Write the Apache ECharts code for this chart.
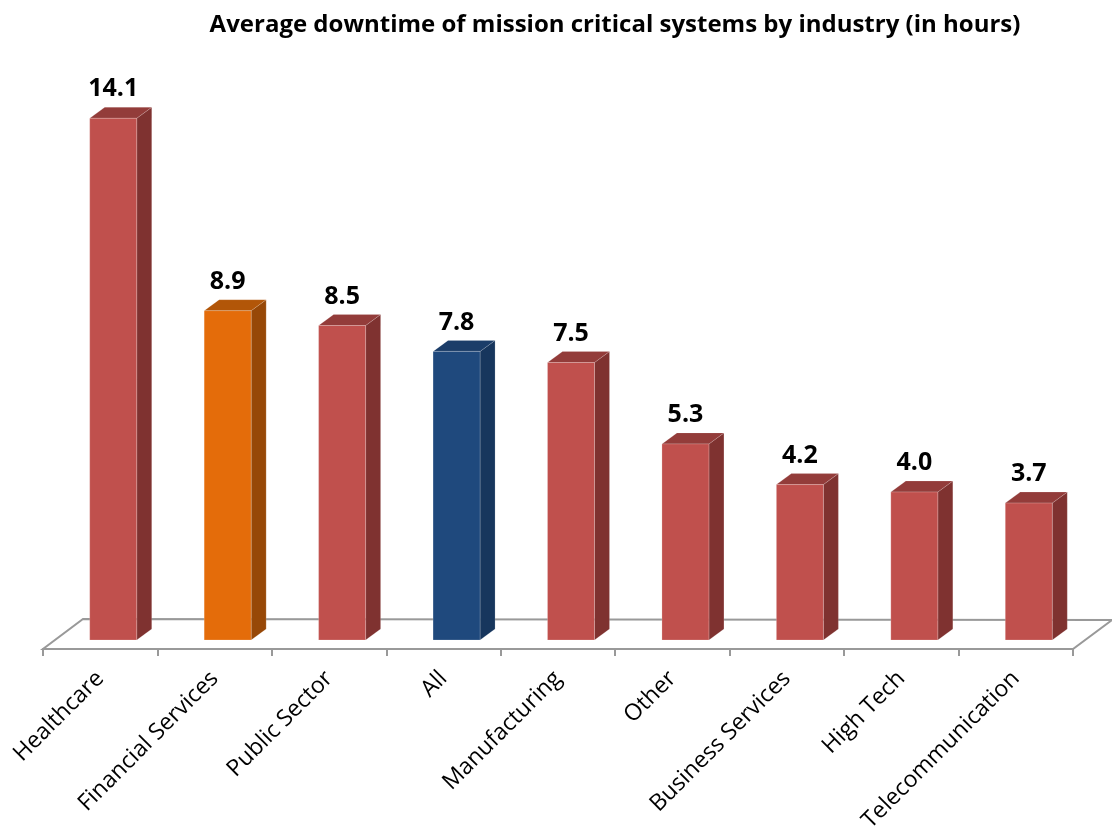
<!DOCTYPE html>
<html>
<head>
<meta charset="utf-8">
<title>Average downtime of mission critical systems</title>
<script src="https://cdn.jsdelivr.net/npm/echarts@6/dist/echarts.min.js"></script>
<style>
  html, body { margin: 0; padding: 0; background: #fff; }
  #chart { width: 1112px; height: 831px; }
</style>
</head>
<body>
<div id="chart"></div>
<script>
// data
const industries = ['Healthcare', 'Financial Services', 'Public Sector', 'All', 'Manufacturing',
  'Other', 'Business Services', 'High Tech', 'Telecommunication']
const downtimeHours = [14.1, 8.9, 8.5, 7.8, 7.5, 5.3, 4.2, 4.0, 3.7]

// face colours: front / side / top
const redFaces = ['#c0504d', '#7f3230', '#933c3a']
const specialFaces = {
  'Financial Services': ['#e46c0a', '#974807', '#b25608'],
  'All': ['#1f497d', '#17365d', '#1b3d69']
}

// 3d look
const BAR_W = 47
const DEPTH_X = 15
const DEPTH_Y = -11
const SHIFT_X = 13  // bars stand a bit back on the floor
const SHIFT_Y = -9

const chart = echarts.init(document.getElementById('chart'))

function renderBar(params, api) {
  const idx = api.value(0)
  const top = api.coord([idx, api.value(1)])
  const base = api.coord([idx, 0])
  const faces = specialFaces[industries[idx]] || redFaces
  const x0 = top[0] + SHIFT_X - BAR_W / 2
  const x1 = x0 + BAR_W
  const yT = top[1] + SHIFT_Y
  const yB = base[1] + SHIFT_Y
  return {
    type: 'group',
    children: [
      {
        type: 'polygon',
        shape: { points: [[x1, yT], [x1 + DEPTH_X, yT + DEPTH_Y], [x1 + DEPTH_X, yB + DEPTH_Y], [x1, yB]] },
        style: { fill: faces[1], stroke: 'rgba(255,255,255,0.15)', lineWidth: 1 }
      },
      {
        type: 'polygon',
        shape: { points: [[x0, yT], [x0 + DEPTH_X, yT + DEPTH_Y], [x1 + DEPTH_X, yT + DEPTH_Y], [x1, yT]] },
        style: { fill: faces[2], stroke: 'rgba(255,255,255,0.15)', lineWidth: 1 }
      },
      {
        type: 'rect',
        shape: { x: x0, y: yT, width: BAR_W, height: yB - yT },
        style: { fill: faces[0], stroke: 'rgba(255,255,255,0.2)', lineWidth: 1 }
      },
      {
        type: 'text',
        x: (x0 + x1) / 2,
        y: yT - 29,
        style: {
          text: api.value(1).toFixed(1),
          fill: '#000',
          font: 'bold 25px "Open Sans"',
          align: 'center',
          verticalAlign: 'middle'
        }
      }
    ]
  }
}

function renderFloor(params) {
  const cs = params.coordSys
  const yF = cs.y + cs.height
  const pts = [
    [cs.x, yF],
    [cs.x + cs.width, yF],
    [cs.x + cs.width + 39, yF - 29],
    [cs.x + 40, yF - 30]
  ]
  return {
    type: 'polygon',
    shape: { points: pts },
    style: { fill: '#fff', stroke: '#999', lineWidth: 2 }
  }
}

const option = {
  backgroundColor: '#fff',
  animation: false,
  title: {
    text: 'Average downtime of mission critical systems by industry (in hours)',
    left: 610,
    textAlign: 'center',
    top: 8,
    textStyle: {
      fontFamily: 'Open Sans',
      fontWeight: 'bold',
      fontSize: 24,
      color: '#000'
    }
  },
  grid: {
    left: 43,
    right: 39,
    top: 57,
    bottom: 182,
    outerBoundsMode: 'none'
  },
  xAxis: {
    type: 'category',
    data: industries,
    z: 5,
    axisLine: { show: true, lineStyle: { color: '#999', width: 2 } },
    axisTick: { show: true, length: 7, lineStyle: { color: '#999', width: 2 } },
    axisLabel: {
      rotate: 45,
      interval: 0,
      margin: 26,
      color: '#000',
      fontFamily: 'Open Sans',
      fontSize: 23
    }
  },
  yAxis: {
    type: 'value',
    min: 0,
    max: 16,
    show: false
  },
  series: [
    {
      type: 'custom',
      z: 1,
      renderItem: renderFloor,
      data: [0],
      silent: true
    },
    {
      type: 'custom',
      z: 3,
      renderItem: renderBar,
      encode: { x: 0, y: 1 },
      data: downtimeHours.map((v, i) => [i, v])
    }
  ]
}

chart.setOption(option)
</script>
</body>
</html>
